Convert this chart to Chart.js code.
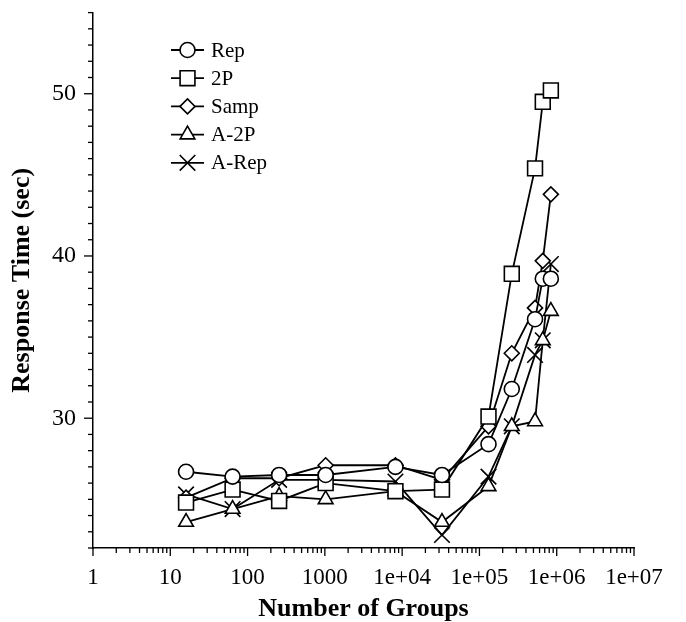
<!DOCTYPE html>
<html><head><meta charset="utf-8">
<script src="https://cdn.jsdelivr.net/npm/chart.js@4.4.1/dist/chart.umd.min.js"></script>
<style>html,body{margin:0;padding:0;background:#fff;}#wrap{width:686px;height:622px;}</style>
</head><body><div id="wrap"><canvas id="c" width="686" height="622"></canvas></div>
<script>
// ---- data ----
const groups = [16, 64, 256, 1024, 8192, 32768, 131072, 262144, 524288, 660000, 840000];
const rep   = [26.7, 26.4, 26.5, 26.5, 27.0, 26.5, 28.4, 31.8, 36.1, 38.6, 38.6];
const twoP  = [24.8, 25.6, 24.9, 26.0, 25.5, 25.6, 30.1, 38.9, 45.4, 49.5, 50.2];
const samp  = [25.1, 26.3, 26.3, 27.1, 27.1, 26.2, 29.5, 34.0, 36.8, 39.7, 43.8];
const a2P   = [23.6, 24.4, 25.2, 25.0, 25.5, 23.6, 25.8, 29.5, 29.8, 34.8, 36.6];
const aRep  = [25.3, 24.4, 26.2, 26.2, 26.1, 22.8, 26.4, 29.5, 33.9, 34.8, 39.5];
const seriesNames = ['Rep', '2P', 'Samp', 'A-2P', 'A-Rep'];
const xTickLabels = ['1', '10', '100', '1000', '1e+04', '1e+05', '1e+06', '1e+07'];
const yTickLabels = ['30', '40', '50'];

const FONT = "'Liberation Serif', 'Times New Roman', serif";
Chart.defaults.font.family = FONT;
Chart.defaults.color = '#000';

const styles = [
  {pointStyle: 'circle', pointRadius: 7.5},
  {pointStyle: 'rect', pointRadius: 10.5},
  {pointStyle: 'rectRot', pointRadius: 7.5},
  {pointStyle: 'triangle', pointRadius: 8.5},
  {pointStyle: 'crossRot', pointRadius: 11}
];
const values = [rep, twoP, samp, a2P, aRep];

const datasets = seriesNames.map((name, k) => ({
  label: name,
  data: groups.map((g, i) => ({x: g, y: values[k][i]})),
  borderColor: '#000',
  borderWidth: 1.8,
  backgroundColor: '#fff',
  pointBackgroundColor: '#fff',
  pointBorderColor: '#000',
  pointBorderWidth: 1.6,
  pointStyle: styles[k].pointStyle,
  pointRadius: styles[k].pointRadius,
  tension: 0,
  fill: false
}));

const tickPlugin = {
  id: 'tickMarks',
  afterDraw(chart) {
    const ctx = chart.ctx;
    const xs = chart.scales.x, ys = chart.scales.y;
    ctx.save();
    ctx.strokeStyle = '#000';
    ctx.lineWidth = 1.3;
    for (let d = 0; d <= 7; d++) {
      for (let m = 1; m <= 9; m++) {
        const v = m * Math.pow(10, d);
        if (v > 1e7) break;
        const px = xs.getPixelForValue(v);
        const len = m === 1 ? 8 : 5;
        ctx.beginPath();
        ctx.moveTo(px, xs.top);
        ctx.lineTo(px, xs.top + len);
        ctx.stroke();
      }
    }
    for (let v = Math.ceil(ys.min); v <= ys.max; v++) {
      const py = ys.getPixelForValue(v);
      const len = v % 10 === 0 ? 9 : 5;
      ctx.beginPath();
      ctx.moveTo(ys.right, py);
      ctx.lineTo(ys.right - len, py);
      ctx.stroke();
    }
    ctx.restore();
  }
};

const legendPlugin = {
  id: 'innerLegend',
  afterDraw(chart) {
    const ctx = chart.ctx;
    ctx.save();
    const x0 = 171, x1 = 204, xc = 187.5, tx = 211;
    const y0 = 50, dy = 28.2;
    chart.data.datasets.forEach((ds, i) => {
      const y = y0 + i * dy;
      ctx.strokeStyle = '#000';
      ctx.lineWidth = 1.8;
      ctx.beginPath();
      ctx.moveTo(x0, y);
      ctx.lineTo(x1, y);
      ctx.stroke();
      ctx.fillStyle = '#fff';
      ctx.lineWidth = 1.6;
      Chart.helpers.drawPoint(ctx, {pointStyle: ds.pointStyle, radius: ds.pointRadius, rotation: 0, borderWidth: 1.6}, xc, y);
      ctx.fillStyle = '#000';
      ctx.font = '21px ' + FONT;
      ctx.textBaseline = 'middle';
      ctx.textAlign = 'left';
      ctx.fillText(ds.label, tx, y + 1);
    });
    ctx.restore();
  }
};

new Chart(document.getElementById('c'), {
  type: 'line',
  data: {datasets},
  plugins: [tickPlugin, legendPlugin],
  options: {
    responsive: false,
    animation: false,
    layout: {padding: {top: 10, right: 52, left: 0, bottom: 0}},
    plugins: {legend: {display: false}, tooltip: {enabled: false}},
    scales: {
      x: {
        type: 'logarithmic',
        min: 1, max: 1e7,
        position: 'bottom',
        border: {display: true, color: '#000', width: 1.5},
        grid: {display: false},
        afterBuildTicks: (s) => { s.ticks = xTickLabels.map((t, i) => ({value: Math.pow(10, i), major: true})); },
        ticks: {
          autoSkip: false, maxRotation: 0, padding: 8,
          font: {size: 23, family: FONT},
          callback: (v, i) => xTickLabels[i]
        },
        title: {display: true, text: 'Number of Groups', font: {size: 26, weight: 'bold', family: FONT, lineHeight: 1}, padding: {top: 0, bottom: 0}},
        afterFit: (s) => { s.height = 74; s.paddingLeft = 0; s.paddingRight = 0; }
      },
      y: {
        type: 'linear',
        min: 22, max: 55,
        border: {display: true, color: '#000', width: 1.5},
        grid: {display: false},
        afterBuildTicks: (s) => { s.ticks = yTickLabels.map(t => ({value: Number(t)})); },
        ticks: {
          padding: 9,
          font: {size: 24, family: FONT},
          callback: (v) => String(v)
        },
        title: {display: true, text: 'Response Time (sec)', font: {size: 26, weight: 'bold', family: FONT, lineHeight: 1}, padding: {top: 9, bottom: 0}},
        afterFit: (s) => { s.width = 93; s.paddingTop = 0; s.paddingBottom = 0; }
      }
    }
  }
});
</script>
</body></html>
